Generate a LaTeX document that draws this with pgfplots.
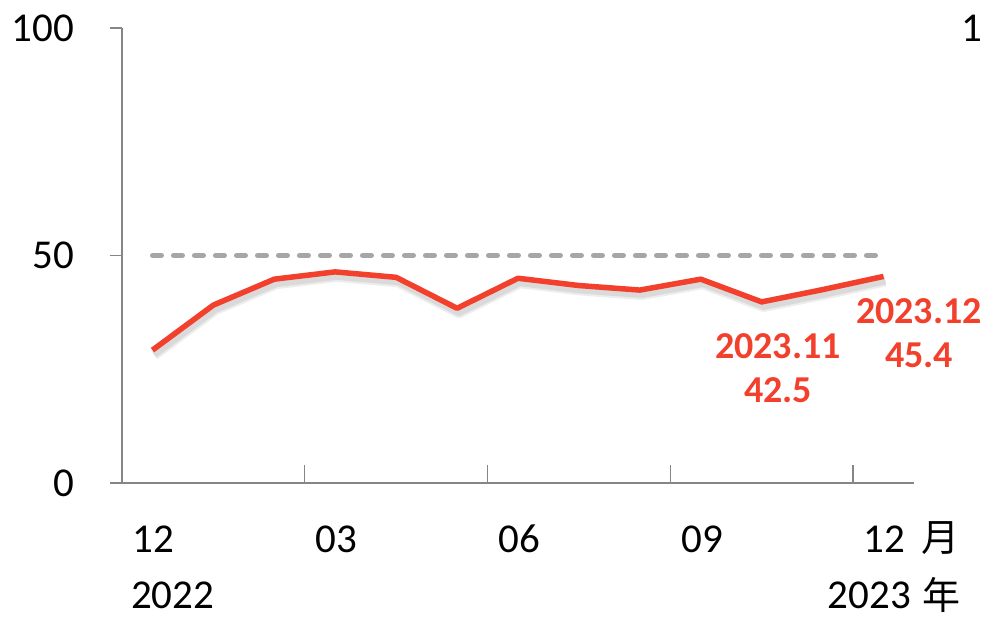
\documentclass[border=0pt]{standalone}
\usepackage{fontspec}
\setmainfont{Carlito}
\newfontfamily\cjk{Noto Sans CJK TC}
\usepackage{pgfplots}
\pgfplotsset{compat=1.18}
\definecolor{redline}{RGB}{242,64,44}
\definecolor{dashgray}{RGB}{166,166,166}
\definecolor{axgray}{RGB}{134,134,134}
\begin{document}
\begin{tikzpicture}
\path[use as bounding box] (0,0) rectangle (983bp,618bp);
\begin{axis}[
  at={(122bp,135bp)}, anchor=south west,
  scale only axis, width=792bp, height=455bp,
  xmin=-0.5, xmax=12.5, ymin=0, ymax=100,
  clip=false,
  axis x line*=bottom, axis y line*=left,
  axis line style={axgray, line width=1.3bp, -},
  ytick={0,50,100},
  xtick=\empty,
  tick align=outside,
  major tick length=12bp,
  tick style={axgray, line width=1.3bp},
  extra x ticks={2.5,5.5,8.5,11.5},
  extra x tick labels={},
  extra x tick style={major tick length=18bp, tick align=inside},
  /pgf/number format/assume math mode=true,
  yticklabel style={font=\fontsize{41bp}{44bp}\selectfont, inner sep=0pt, anchor=east, xshift=-36bp},
]
% soft shadow
\addplot[black, opacity=0.07, line width=10bp, line join=round, xshift=2bp, yshift=-5bp, forget plot]
  coordinates {(0,29.2) (1,39.1) (2,44.8) (3,46.4) (4,45.2) (5,38.4) (6,45.0) (7,43.4) (8,42.4) (9,44.8) (10,39.8) (11,42.5) (12,45.4)};
\addplot[black, opacity=0.08, line width=6bp, line join=round, xshift=2bp, yshift=-5bp, forget plot]
  coordinates {(0,29.2) (1,39.1) (2,44.8) (3,46.4) (4,45.2) (5,38.4) (6,45.0) (7,43.4) (8,42.4) (9,44.8) (10,39.8) (11,42.5) (12,45.4)};
% 50 reference line
\addplot[dashgray, line width=5bp, line cap=round, dash pattern=on 9bp off 12bp]
  coordinates {(0,50) (12,50)};
% main series
\addplot[redline, line width=5.5bp, line join=round]
  coordinates {(0,29.2) (1,39.1) (2,44.8) (3,46.4) (4,45.2) (5,38.4) (6,45.0) (7,43.4) (8,42.4) (9,44.8) (10,39.8) (11,42.5) (12,45.4)};
\end{axis}
% x category labels
\begin{scope}[every node/.style={font=\fontsize{41bp}{44bp}\selectfont, inner sep=0pt}]
\node[anchor=center] at (153bp,79bp) {12};
\node[anchor=center] at (336bp,79bp) {03};
\node[anchor=center] at (519bp,79bp) {06};
\node[anchor=center] at (702bp,79bp) {09};
\node[anchor=center] at (884bp,79bp) {12};
\node[anchor=center] at (940bp,80bp) {\cjk\fontsize{38bp}{40bp}\selectfont 月};
\node[anchor=west] at (131bp,23bp) {2022};
\node[anchor=east] at (911bp,23bp) {2023};
\node[anchor=center] at (941bp,23bp) {\cjk\fontsize{38bp}{40bp}\selectfont 年};
\node[anchor=east] at (982bp,590bp) {1};
\end{scope}
% annotations
\begin{scope}[every node/.style={font=\fontsize{38bp}{44bp}\selectfont\bfseries, text=redline, inner sep=0pt, align=center}]
\node[anchor=center] at (778bp,250bp) {2023.11\\42.5};
\node[anchor=center] at (919bp,285bp) {2023.12\\45.4};
\end{scope}
\end{tikzpicture}
\end{document}
